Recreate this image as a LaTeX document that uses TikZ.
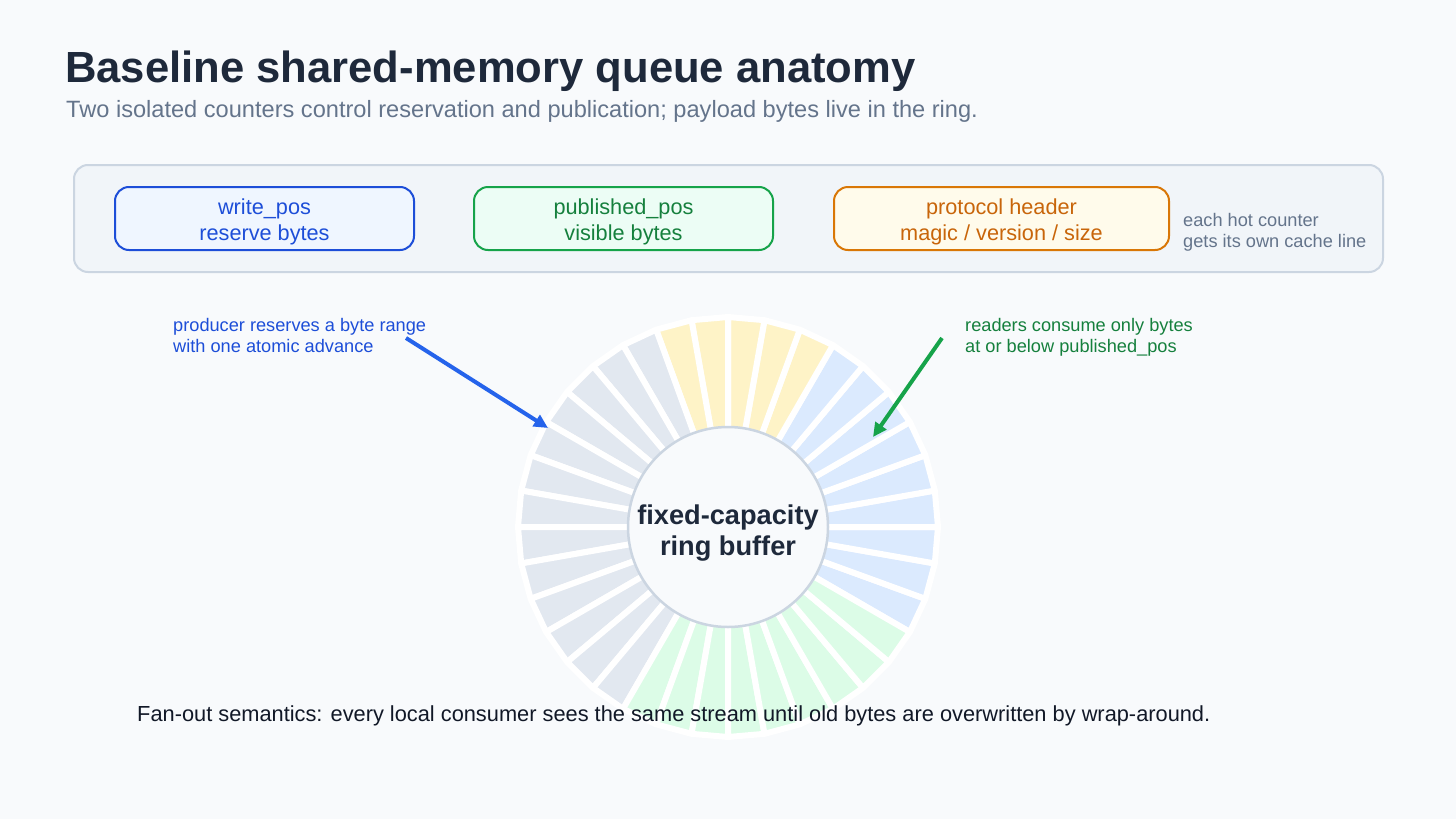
\documentclass[tikz,border=0pt]{standalone}
\usepackage{fontspec}
\setmainfont{Liberation Sans}
\usetikzlibrary{arrows.meta}
\definecolor{bg}{HTML}{F8FAFC}
\definecolor{panelfill}{HTML}{F1F5F9}
\definecolor{panelline}{HTML}{CBD5E1}
\definecolor{titlecol}{HTML}{1E293B}
\definecolor{subcol}{HTML}{64748B}
\definecolor{darktext}{HTML}{111827}
\definecolor{bluestroke}{HTML}{1D4ED8}
\definecolor{bluefill}{HTML}{EFF6FF}
\definecolor{bluetext}{HTML}{1D4ED8}
\definecolor{bluearrow}{HTML}{2563EB}
\definecolor{greenstroke}{HTML}{16A34A}
\definecolor{greenfill}{HTML}{ECFDF5}
\definecolor{greentext}{HTML}{15803D}
\definecolor{greenarrow}{HTML}{16A34A}
\definecolor{orangestroke}{HTML}{D97706}
\definecolor{orangefill}{HTML}{FFFBEB}
\definecolor{orangetext}{HTML}{C8650A}
\definecolor{seggray}{HTML}{E2E8F0}
\definecolor{segyellow}{HTML}{FEF3C7}
\definecolor{segblue}{HTML}{DBEAFE}
\definecolor{seggreen}{HTML}{DCFCE7}
\definecolor{ringline}{HTML}{CBD5E1}
\tikzset{
  counterbox/.style={rounded corners=14pt, line width=2pt, minimum height=63pt},
  boxtext/.style={inner sep=0pt, align=center, font=\fontsize{21.7}{26}\selectfont},
  plaintext/.style={inner sep=0pt, anchor=base west},
  smalltext/.style={plaintext, font=\fontsize{18.2}{21}\selectfont},
  segment/.style={draw=white, line width=6pt, line join=round},
  annarrow/.style={line width=4pt, -{Triangle[length=14pt,width=13pt]}},
  coretext/.style={inner sep=0pt, anchor=base, text=titlecol, font=\fontsize{27.2}{31}\selectfont\bfseries},
}
\begin{document}
\begin{tikzpicture}[x=1pt,y=-1pt]
\path[use as bounding box, fill=bg] (0,0) rectangle (1456,819);

% title
\node[plaintext, text=titlecol, font=\fontsize{43.6}{50}\selectfont\bfseries] (title) at (65,82) {Baseline shared-memory queue anatomy};
\node[plaintext, text=subcol, font=\fontsize{23.6}{28}\selectfont] (subtitle) at (66,117) {Two isolated counters control reservation and publication; payload bytes live in the ring.};

% panel
\node[draw=panelline, fill=panelfill, rounded corners=14pt, line width=2pt, minimum width=1309pt, minimum height=107pt] (panel) at (728.5,218.5) {};

\node[counterbox, draw=bluestroke, fill=bluefill, minimum width=299pt] (wp) at (264.5,218.5) {};
\node[boxtext, text=bluetext] (wpt) at (264.5,222) {write\_pos\\reserve bytes};
\node[counterbox, draw=greenstroke, fill=greenfill, minimum width=299pt] (pp) at (623.5,218.5) {};
\node[boxtext, text=greentext] (ppt) at (623.5,222) {published\_pos\\visible bytes};
\node[counterbox, draw=orangestroke, fill=orangefill, minimum width=335pt] (ph) at (1001.5,218.5) {};
\node[boxtext, text=orangetext] (pht) at (1001.5,222) {protocol header\\magic / version / size};

\node[smalltext, text=subcol] (note1) at (1183,226) {each hot counter};
\node[smalltext, text=subcol] (note2) at (1183,247) {gets its own cache line};

% ring
\begin{scope}[shift={(728,527)}, yscale=-1]
\foreach \a/\c in {335/segblue,345/segblue,355/segblue,5/segblue,15/segblue,25/segblue,35/segblue,45/segblue,55/segblue,
  65/segyellow,75/segyellow,85/segyellow,95/segyellow,105/segyellow,
  115/seggray,125/seggray,135/seggray,145/seggray,155/seggray,165/seggray,175/seggray,185/seggray,195/seggray,205/seggray,215/seggray,225/seggray,235/seggray,
  245/seggreen,255/seggreen,265/seggreen,275/seggreen,285/seggreen,295/seggreen,305/seggreen,315/seggreen,325/seggreen}
{
  \filldraw[segment, fill=\c] (0,0) -- (\a-5:210) -- (\a+5:210) -- cycle;
}
\end{scope}
\node[circle, minimum size=200pt, inner sep=0pt, fill=bg, draw=ringline, line width=2.5pt] (core) at (728,527) {};
\node[coretext] (coret1) at (728,524) {fixed-capacity};
\node[coretext] (coret2) at (728,555) {ring buffer};

% annotations
\node[smalltext, text=bluetext] (prod1) at (173,331) {producer reserves a byte range};
\node[smalltext, text=bluetext] (prod2) at (173,352) {with one atomic advance};
\node[smalltext, text=greentext] (read1) at (965,331) {readers consume only bytes};
\node[smalltext, text=greentext] (read2) at (965,352) {at or below published\_pos};

\coordinate (pa) at (406,338);
\coordinate (pb) at (548,428);
\coordinate (ra) at (942,338);
\coordinate (rb) at (873,437);
\draw[annarrow, draw=bluearrow, fill=bluearrow] (pa) -- (pb);
\draw[annarrow, draw=greenarrow, fill=greenarrow] (ra) -- (rb);

% footer
\node[plaintext, text=darktext, font=\fontsize{21.8}{26}\selectfont] (footer) at (137,721) {Fan-out semantics: every local consumer sees the same stream until old bytes are overwritten by wrap-around.};
\end{tikzpicture}
\end{document}
